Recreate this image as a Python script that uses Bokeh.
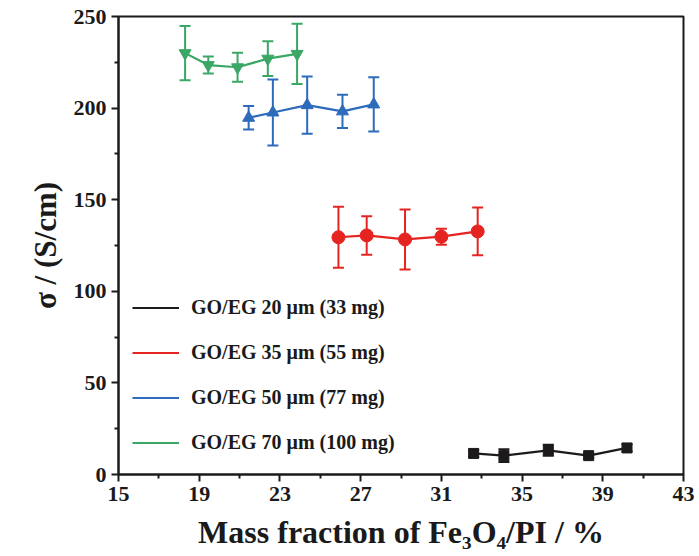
from bokeh.plotting import figure
from bokeh.models import (ColumnDataSource, Whisker, TeeHead, FixedTicker, Legend, LegendItem, Range1d)
from bokeh.embed import file_html
from bokeh.resources import INLINE

# ---- data ----
x_20 = [32.6, 34.1, 36.3, 38.3, 40.2]
y_20 = [11.5, 10.3, 13.2, 10.3, 14.5]
e_20 = [2.0, 3.5, 3.0, 1.2, 2.0]

x_35 = [25.9, 27.3, 29.2, 31.0, 32.8]
y_35 = [129.5, 130.5, 128.3, 129.8, 132.7]
e_35 = [16.7, 10.5, 16.4, 4.4, 13.0]

x_50 = [21.45, 22.65, 24.35, 26.1, 27.65]
y_50 = [194.7, 197.6, 201.6, 198.2, 202.0]
e_50 = [6.4, 18.0, 15.6, 9.1, 14.8]

x_70 = [18.3, 19.45, 20.9, 22.4, 23.85]
y_70 = [230.0, 223.5, 222.3, 227.0, 229.6]
e_70 = [14.8, 4.6, 7.9, 9.5, 16.5]

labels = ["GO/EG 20 \u03bcm (33 mg)", "GO/EG 35 \u03bcm (55 mg)",
          "GO/EG 50 \u03bcm (77 mg)", "GO/EG 70 \u03bcm (100 mg)"]
colors = ["#1c1a1a", "#e52421", "#2d6bbb", "#3aa764"]
markers = ["square", "circle", "triangle", "inverted_triangle"]
msizes = [10, 13, 12, 12]

x_ticks = [15, 19, 23, 27, 31, 35, 39, 43]
x_minor = [17, 21, 25, 29, 33, 37, 41]
y_ticks = [0, 50, 100, 150, 200, 250]
y_minor = [25, 75, 125, 175, 225]

FONT = "Liberation Serif"

p = figure(width=699, height=556, output_backend="svg", toolbar_location=None,
           x_range=Range1d(15, 43), y_range=Range1d(0, 250),
           min_border_left=118, min_border_right=16, min_border_top=16, min_border_bottom=82)
p.grid.visible = False
p.background_fill_color = "white"
p.border_fill_color = "white"
p.outline_line_color = "#1a1a1a"
p.outline_line_width = 2

for ax in (p.xaxis[0], p.yaxis[0]):
    ax.axis_line_width = 2
    ax.axis_line_color = "#1a1a1a"
    ax.major_tick_line_width = 2
    ax.minor_tick_line_width = 2
    ax.major_tick_line_color = "#1a1a1a"
    ax.minor_tick_line_color = "#1a1a1a"
    ax.major_tick_out = 7
    ax.major_tick_in = 0
    ax.minor_tick_out = 4
    ax.minor_tick_in = 0
    ax.major_label_text_font = FONT
    ax.major_label_text_font_style = "bold"
    ax.major_label_text_font_size = "22px"
    ax.major_label_text_color = "#1a1a1a"
    ax.axis_label_text_font = FONT
    ax.axis_label_text_font_style = "bold"
    ax.axis_label_text_color = "#1a1a1a"

p.xaxis[0].ticker = FixedTicker(ticks=x_ticks, minor_ticks=x_minor)
p.yaxis[0].ticker = FixedTicker(ticks=y_ticks, minor_ticks=y_minor)
p.xaxis[0].axis_label = "Mass fraction of Fe\u2083O\u2084/PI / %"
p.xaxis[0].axis_label_text_font_size = "32px"
p.xaxis[0].axis_label_standoff = 10
p.xaxis[0].major_label_standoff = 5
p.yaxis[0].axis_label = "\u03c3 / (S/cm)"
p.yaxis[0].axis_label_text_font_size = "31px"
p.yaxis[0].axis_label_standoff = 8
p.yaxis[0].major_label_standoff = 5

series = [(x_20, y_20, e_20), (x_35, y_35, e_35), (x_50, y_50, e_50), (x_70, y_70, e_70)]
items = []
for (xs, ys, es), lab, col, mk, ms in zip(series, labels, colors, markers, msizes):
    src = ColumnDataSource(dict(x=xs, y=ys,
                                lo=[a - b for a, b in zip(ys, es)],
                                hi=[a + b for a, b in zip(ys, es)]))
    w = Whisker(source=src, base="x", lower="lo", upper="hi",
                line_color=col, line_width=2,
                upper_head=TeeHead(size=11, line_color=col, line_width=2),
                lower_head=TeeHead(size=11, line_color=col, line_width=2))
    p.add_layout(w)
    ln = p.line("x", "y", source=src, line_color=col, line_width=2.2)
    p.scatter("x", "y", source=src, marker=mk, size=ms, fill_color=col, line_color=col)
    items.append(LegendItem(label=lab, renderers=[ln]))

leg = Legend(items=items, location=(14, 20), orientation="vertical",
             background_fill_alpha=0, border_line_alpha=0,
             padding=0, margin=0, spacing=22,
             glyph_width=47, glyph_height=23, label_height=23, label_standoff=12,
             label_text_font=FONT, label_text_font_style="bold",
             label_text_font_size="20px", label_text_color="#1a1a1a")
p.add_layout(leg, "center")

open("out.html", "w").write(file_html(p, INLINE))
